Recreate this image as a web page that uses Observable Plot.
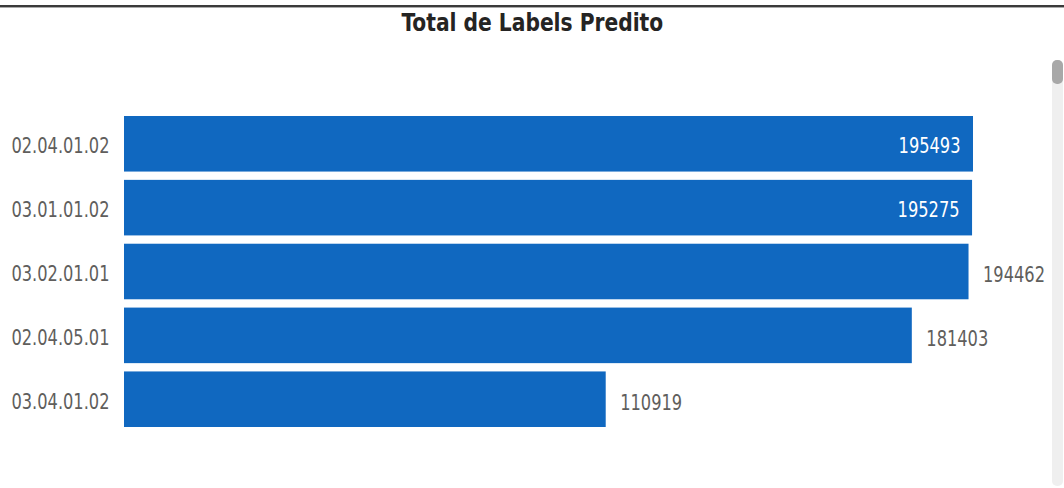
<!DOCTYPE html>
<html>
<head>
<meta charset="utf-8">
<script src="https://cdn.jsdelivr.net/npm/d3@7"></script>
<script src="https://cdn.jsdelivr.net/npm/@observablehq/plot@0.6"></script>
<style>
  html, body { margin: 0; padding: 0; background: #fff; }
  body { width: 1064px; height: 488px; position: relative; overflow: hidden; font-family: "DejaVu Sans Condensed", "DejaVu Sans", sans-serif; }
  #topline { position: absolute; left: 0; top: 5px; width: 1064px; height: 2px; background: #3a3a3a; border-bottom: 1px solid #aaa; }
  #title { position: absolute; left: 0; top: 8px; width: 1064px; text-align: center; }
  #title span { display: inline-block; font-size: 25px; font-weight: bold; color: #252423; transform: scaleX(0.9); transform-origin: center; }
  #chart { position: absolute; left: 0; top: 44px; }
  #track { position: absolute; left: 1052px; top: 60px; width: 11px; height: 426px; background: #efefef; border-radius: 5px; }
  #thumb { position: absolute; left: 1052px; top: 60px; width: 11px; height: 24px; background: #a8a8a8; border-radius: 5px; }
</style>
</head>
<body>
<div id="topline"></div>
<div id="title"><span>Total de Labels Predito</span></div>
<div id="chart"></div>
<div id="track"></div>
<div id="thumb"></div>
<script>
const categories = ["02.04.01.02", "03.01.01.02", "03.02.01.01", "02.04.05.01", "03.04.01.02"];
const values = [195493, 195275, 194462, 181403, 110919];

const data = categories.map((c, i) => ({cat: c, value: values[i]}));

const W = 1064, H = 444, mL = 124, mR = 91;
const xMax = d3.max(values);
const xPix = v => mL + v / xMax * (W - mL - mR);
const labelW = 62, pad = 14, limit = 1045;
const isInside = d => xPix(d.value) + pad + labelW > limit;

const fontFam = '"DejaVu Sans Condensed", "DejaVu Sans", sans-serif';
const squeeze = 0.82;

const chart = Plot.plot({
  width: W,
  height: H,
  marginLeft: mL,
  marginRight: mR,
  marginTop: 72,
  marginBottom: 61,
  style: { fontFamily: fontFam, fontSize: "22px", background: "transparent" },
  x: { domain: [0, xMax], axis: null },
  y: { domain: categories, paddingInner: 0.13, paddingOuter: 0, round: false, axis: null },
  marks: [
    Plot.barX(data, { y: "cat", x: "value", fill: "#1068c0" }),
    Plot.axisY({ label: null, tickSize: 0, tickPadding: 15, dy: 2, fill: "#605e5c", fontSize: 22 }),
    Plot.text(data.filter(isInside), { y: "cat", x: "value", text: d => String(d.value), textAnchor: "end", dx: -13, dy: 2, fill: "#ffffff", fontSize: 22 }),
    Plot.text(data.filter(d => !isInside(d)), { y: "cat", x: "value", text: d => String(d.value), textAnchor: "start", dx: pad, dy: 3, fill: "#605e5c", fontSize: 22 })
  ]
});
document.getElementById("chart").appendChild(chart);
chart.querySelectorAll("text").forEach(t => {
  const len = t.getComputedTextLength();
  if (len > 0) {
    t.setAttribute("textLength", (len * squeeze).toFixed(2));
    t.setAttribute("lengthAdjust", "spacingAndGlyphs");
  }
});
</script>
</body>
</html>
